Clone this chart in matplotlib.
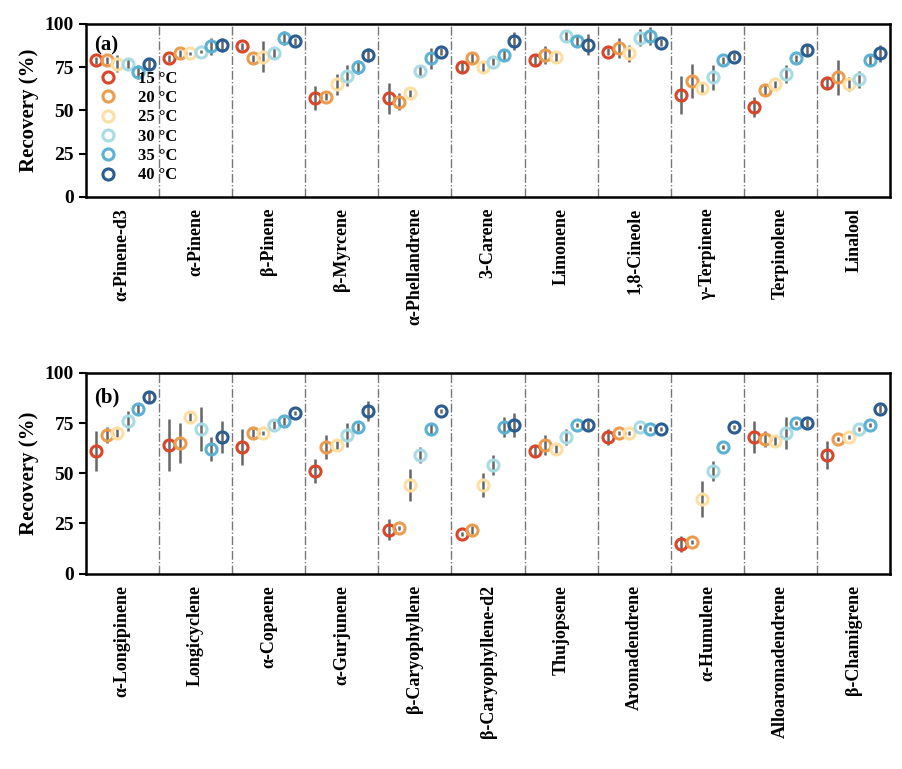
import matplotlib.pyplot as plt
import numpy as np

plt.rcParams['font.family'] = ['Liberation Serif', 'DejaVu Serif']
plt.rcParams['font.weight'] = 'bold'

temps = ['15 \u00b0C', '20 \u00b0C', '25 \u00b0C', '30 \u00b0C', '35 \u00b0C', '40 \u00b0C']
colors = ['#d9472b', '#eb9d4f', '#fddfa4', '#a8dbe4', '#5cb2d2', '#2c5d91']

names_a = ['\u03b1-Pinene-d3', '\u03b1-Pinene', '\u03b2-Pinene', '\u03b2-Myrcene', '\u03b1-Phellandrene',
           '3-Carene', 'Limonene', '1,8-Cineole', '\u03b3-Terpinene', 'Terpinolene', 'Linalool']
vals_a = [[79, 79, 77, 77, 72, 77], [80, 83, 83, 84, 87, 88], [87, 80, 81, 83, 92, 90],
          [57, 58, 65, 70, 75, 82], [57, 55, 60, 73, 80, 84], [75, 80, 75, 78, 82, 90],
          [79, 82, 81, 93, 90, 88], [84, 86, 83, 92, 93, 89], [59, 67, 63, 69, 79, 81],
          [52, 62, 65, 71, 80, 85], [66, 69, 65, 68, 79, 83]]
errs_a = [[2, 2, 5, 3, 4, 3], [2, 2, 1, 1, 5, 4], [2, 2, 9, 3, 4, 2],
          [7, 2, 6, 6, 4, 4], [9, 5, 2, 3, 6, 2], [3, 3, 3, 2, 3, 5],
          [3, 5, 3, 3, 3, 6], [2, 6, 5, 5, 5, 2], [11, 10, 3, 7, 2, 2],
          [6, 3, 2, 5, 2, 3], [3, 10, 4, 5, 3, 5]]

names_b = ['\u03b1-Longipinene', 'Longicyclene', '\u03b1-Copaene', '\u03b1-Gurjunene', '\u03b2-Caryophyllene',
           '\u03b2-Caryophyllene-d2', 'Thujopsene', 'Aromadendrene', '\u03b1-Humulene',
           'Alloaromadendrene', '\u03b2-Chamigrene']
vals_b = [[61, 69, 70, 76, 82, 88], [64, 65, 78, 72, 62, 68], [63, 70, 70, 74, 76, 80],
          [51, 63, 64, 69, 73, 81], [22, 23, 44, 59, 72, 81], [20, 22, 44, 54, 73, 74],
          [61, 64, 62, 68, 74, 74], [68, 70, 70, 73, 72, 72], [15, 16, 37, 51, 63, 73],
          [68, 67, 66, 70, 75, 75], [59, 67, 68, 72, 74, 82]]
errs_b = [[10, 4, 2, 5, 3, 3], [13, 10, 2, 11, 6, 8], [9, 2, 1, 2, 2, 1],
          [6, 6, 2, 6, 2, 5], [5, 1, 8, 4, 3, 1], [1, 2, 6, 5, 5, 6],
          [3, 5, 2, 4, 1, 2], [4, 1, 1, 1, 1, 1], [4, 1, 9, 5, 1, 1],
          [8, 4, 3, 8, 1, 2], [7, 1, 1, 1, 1, 2]]

fig = plt.figure(figsize=(9.03, 7.69), dpi=100)
ax_a = fig.add_axes([0.095, 0.744, 0.891, 0.225])
ax_b = fig.add_axes([0.095, 0.254, 0.891, 0.261])

offsets = np.linspace(-0.36, 0.36, 6)


def draw(ax, names, vals, errs, tag, legend):
    vals = np.array(vals)
    errs = np.array(errs)
    x = np.arange(len(names))
    for j in range(6):
        ax.errorbar(x + offsets[j], vals[:, j], yerr=errs[:, j], fmt='none',
                    ecolor='#666666', elinewidth=1.8, capsize=0, zorder=2)
        ax.plot(x + offsets[j], vals[:, j], 'o', ms=8, mfc='none', mec=colors[j],
                mew=2.2, zorder=3, label=temps[j])
    for k in range(len(names) - 1):
        ax.axvline(k + 0.5, color='#777777', ls='-.', lw=1, zorder=1)
    ax.set_xlim(-0.5, len(names) - 0.5)
    ax.set_ylim(0, 100)
    ax.set_yticks([0, 25, 50, 75, 100])
    ax.set_xticks(x)
    ax.set_xticklabels(names, rotation=90, fontsize=13, fontweight='bold')
    ax.tick_params(axis='y', labelsize=14, width=1.5, length=5)
    ax.tick_params(axis='x', length=0, pad=8)
    for s in ax.spines.values():
        s.set_linewidth(1.8)
    ax.set_ylabel('Recovery (%)', fontsize=15, fontweight='bold')
    ax.text(0.01, 0.93, tag, transform=ax.transAxes, fontsize=15, fontweight='bold', va='top')
    if legend:
        ax.legend(loc='lower left', bbox_to_anchor=(-0.005, 0.02), frameon=False,
                  fontsize=12, handletextpad=0.8, labelspacing=0.2, borderaxespad=0.2)


draw(ax_a, names_a, vals_a, errs_a, '(a)', True)
draw(ax_b, names_b, vals_b, errs_b, '(b)', False)

fig.savefig('out.png', dpi=100)
